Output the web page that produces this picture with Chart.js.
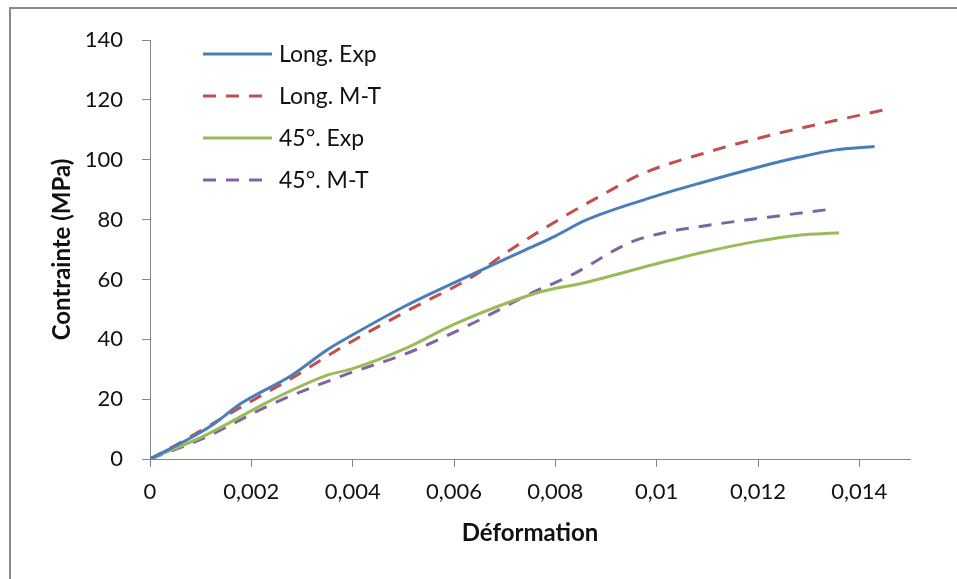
<!DOCTYPE html>
<html>
<head>
<meta charset="utf-8">
<script src="https://cdn.jsdelivr.net/npm/chart.js@4.4.0/dist/chart.umd.min.js"></script>
<style>
  html, body { margin: 0; padding: 0; background: #fff; overflow: hidden; }
  .frame {
    position: absolute; left: 9px; top: 7px; width: 2000px; height: 2000px;
    border-left: 2px solid #8a8a8a; border-top: 2px solid #8a8a8a;
  }
  .wrap { position: absolute; left: 0; top: 0; width: 957px; height: 579px; }
</style>
</head>
<body>
<div class="frame"></div>
<div class="wrap"><canvas id="chart" width="957" height="579"></canvas></div>
<script>
// strain (-) and stress (MPa)
const longExpStrain = [0, 0.0006, 0.0012, 0.0018, 0.0028, 0.0035, 0.004, 0.005, 0.0064, 0.0074, 0.008, 0.0086, 0.0099, 0.0109, 0.012, 0.0128, 0.0135, 0.0143];
const longExpStress = [0, 5.2, 11, 18.6, 28, 36.5, 41.5, 50.8, 62, 69.8, 74.5, 79.8, 87.4, 92.4, 97.5, 100.8, 103.2, 104.4];

const longMtStrain = [0, 0.0006, 0.0018, 0.0028, 0.0038, 0.0051, 0.0064, 0.007, 0.0082, 0.0089, 0.0097, 0.0109, 0.0122, 0.0135, 0.0145];
const longMtStress = [0, 5.5, 17.4, 27, 37.5, 49.7, 61.3, 68.6, 81.3, 88, 95.2, 102, 108, 113, 116.7];

const diagExpStrain = [0, 0.0011, 0.0024, 0.0035, 0.004, 0.0051, 0.006, 0.0077, 0.0086, 0.0099, 0.0109, 0.012, 0.0128, 0.0136];
const diagExpStress = [0, 8, 19.7, 28, 30.2, 37.4, 45, 55.8, 59, 64.8, 69, 72.8, 74.8, 75.6];

const diagMtStrain = [0, 0.0011, 0.0024, 0.0037, 0.0041, 0.0051, 0.0064, 0.0075, 0.0083, 0.0095, 0.0102, 0.0109, 0.0122, 0.0135];
const diagMtStress = [0, 7.3, 18.3, 27.2, 29.6, 35.5, 45.6, 55.2, 61.3, 72.5, 75.8, 77.8, 80.8, 83.6];

const seriesLabels = ['Long. Exp', 'Long. M-T', '45°. Exp', '45°. M-T'];
const yTicks = [0, 20, 40, 60, 80, 100, 120, 140];

const FONT = 'Lato, "Open Sans", sans-serif';
const AXIS = '#868686';

const pts = (xs, ys) => xs.map((x, i) => ({ x, y: ys[i] }));

const mkSet = (label, xs, ys, color, dashed) => ({
  label,
  data: pts(xs, ys),
  borderColor: color,
  backgroundColor: color,
  borderWidth: 3,
  borderDash: dashed ? [13, 10] : [],
  pointRadius: 0,
  fill: false,
  cubicInterpolationMode: 'monotone',
});

// legend drawn inside the plot, like the Excel one
const insideLegend = {
  id: 'insideLegend',
  afterDraw(chart) {
    const { ctx, chartArea } = chart;
    ctx.save();
    chart.data.datasets.forEach((ds, i) => {
      const y = chartArea.top + 14 + i * 42;
      const x0 = chartArea.left + 53;
      ctx.beginPath();
      ctx.strokeStyle = ds.borderColor;
      ctx.lineWidth = 3;
      ctx.setLineDash(ds.borderDash);
      ctx.moveTo(x0, y);
      ctx.lineTo(x0 + 69, y);
      ctx.stroke();
      ctx.setLineDash([]);
      ctx.fillStyle = '#111';
      ctx.font = '23px ' + FONT;
      ctx.textBaseline = 'middle';
      ctx.textAlign = 'left';
      ctx.fillText(ds.label, x0 + 76, y + 1);
    });
    ctx.restore();
  },
};

const ctx = document.getElementById('chart').getContext('2d');
new Chart(ctx, {
  type: 'line',
  data: {
    datasets: [
      mkSet(seriesLabels[0], longExpStrain, longExpStress, '#4A7EBB', false),
      mkSet(seriesLabels[1], longMtStrain, longMtStress, '#C0504D', true),
      mkSet(seriesLabels[2], diagExpStrain, diagExpStress, '#9BBB59', false),
      mkSet(seriesLabels[3], diagMtStrain, diagMtStress, '#8064A2', true),
    ],
  },
  options: {
    responsive: false,
    animation: false,
    layout: { padding: { left: 20, top: 40, right: 47, bottom: 0 } },
    plugins: { legend: { display: false }, tooltip: { enabled: false } },
    scales: {
      x: {
        type: 'linear',
        min: 0,
        max: 0.015,
        afterFit: (s) => { s.height = 120; },
        border: { color: AXIS, width: 1 },
        grid: { drawOnChartArea: false, drawTicks: true, tickLength: 8, color: AXIS },
        ticks: {
          stepSize: 0.002,
          includeBounds: false,
          maxRotation: 0,
          padding: 12,
          color: '#111',
          font: { family: FONT, size: 22 },
          callback: (v) => String(Number(v.toFixed(3))).replace('.', ','),
        },
        title: {
          display: true,
          text: 'Déformation',
          color: '#111',
          font: { family: FONT, size: 24, weight: 'bold' },
          padding: { top: 0, bottom: 31 },
        },
      },
      y: {
        min: yTicks[0],
        max: yTicks[yTicks.length - 1],
        afterFit: (s) => { s.width = 130; },
        afterBuildTicks: (s) => { s.ticks = yTicks.map((v) => ({ value: v })); },
        border: { color: AXIS, width: 1 },
        grid: { drawOnChartArea: false, drawTicks: true, tickLength: 8, color: AXIS },
        ticks: {
          padding: 19,
          color: '#111',
          font: { family: FONT, size: 22 },
        },
        title: {
          display: true,
          text: 'Contrainte (MPa)',
          color: '#111',
          font: { family: FONT, size: 24, weight: 'bold' },
          padding: { top: 28, bottom: 0 },
        },
      },
    },
  },
  plugins: [insideLegend],
});
</script>
</body>
</html>
